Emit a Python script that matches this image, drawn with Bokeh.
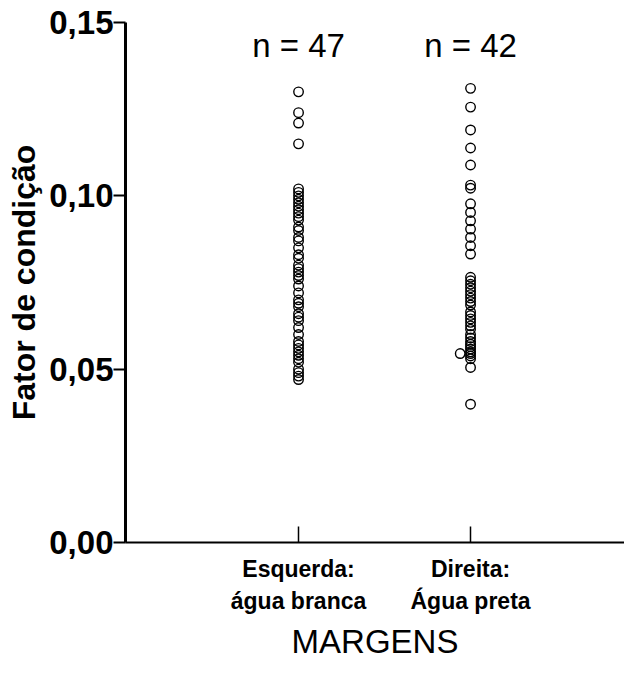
from bokeh.plotting import figure
from bokeh.models import FixedTicker, CustomJSTickFormatter, Range1d, ColumnDataSource
from bokeh.core.properties import value
from bokeh.embed import file_html
from bokeh.resources import INLINE

FONT = "Liberation Sans"

# Categories (x tick labels)
categories = ["Esquerda:\nágua branca", "Direita:\nÁgua preta"]
y_ticks = [0.0, 0.05, 0.10, 0.15]

# Fator de condição - margem esquerda (água branca), n = 47
esquerda = [0.130, 0.124, 0.121, 0.115,
            0.102, 0.101, 0.100, 0.099, 0.098, 0.097, 0.096, 0.095, 0.094, 0.093,
            0.091, 0.090, 0.088, 0.087, 0.085, 0.083, 0.082, 0.080, 0.079, 0.078,
            0.077, 0.076, 0.074, 0.072, 0.070, 0.069, 0.068, 0.066, 0.065, 0.064,
            0.062, 0.060, 0.058, 0.057, 0.056, 0.055, 0.054, 0.053, 0.052, 0.050,
            0.049, 0.048, 0.047]

# Fator de condição - margem direita (água preta), n = 42
direita = [0.131, 0.1256, 0.119, 0.1138, 0.1089, 0.1031, 0.1022,
           0.0977, 0.0952, 0.0928, 0.0904, 0.0880, 0.0856, 0.0832,
           0.0765, 0.0755, 0.0745, 0.0735, 0.0725, 0.0715, 0.0705, 0.0695, 0.0685,
           0.0665, 0.0655, 0.0645, 0.0635, 0.0625, 0.0615, 0.0600, 0.0590, 0.0580,
           0.0572, 0.0565, 0.0558, 0.0550, 0.0545, 0.0538, 0.0530,
           0.0545, 0.0505, 0.0399]
# horizontal displacement of overlapping cases (in category units)
direita_offset = [0.0] * 39 + [-0.06, 0.0, 0.0]

p = figure(width=624, height=664, output_backend="svg", toolbar_location=None,
           x_range=Range1d(-0.006, 2.895), y_range=Range1d(0, 0.15),
           min_border_left=125, min_border_right=0, min_border_top=22,
           min_border_bottom=122)
p.outline_line_color = None
p.xgrid.visible = False
p.ygrid.visible = False
p.background_fill_color = "white"
p.border_fill_color = "white"

src1 = ColumnDataSource(dict(x=[1.0] * len(esquerda), y=esquerda))
src2 = ColumnDataSource(dict(x=[2.0 + o for o in direita_offset], y=direita))
for s in (src1, src2):
    p.scatter("x", "y", source=s, marker="circle", size=9.5, fill_color=None,
              line_color="black", line_width=1.4)

p.text(x=[1, 2], y=[0.1434, 0.1434],
       text=[f"n = {len(esquerda)}", f"n = {len(direita)}"],
       text_align="center", text_baseline="alphabetic",
       text_font=value(FONT), text_font_size="33px", text_color="black")

# Y axis
ya = p.yaxis[0]
ya.ticker = FixedTicker(ticks=y_ticks)
ya.formatter = CustomJSTickFormatter(code="return tick.toFixed(2).replace('.', ',');")
ya.minor_tick_line_color = None
ya.major_tick_out = 12
ya.major_tick_in = 0
ya.major_tick_line_width = 2
ya.major_label_standoff = 0
ya.major_label_text_font = FONT
ya.major_label_text_font_size = "33px"
ya.major_label_text_font_style = "bold"
ya.major_label_text_color = "black"
ya.axis_line_width = 3
ya.axis_line_color = "black"
ya.axis_label = "Fator de condição"
ya.axis_label_text_font = FONT
ya.axis_label_text_font_size = "32px"
ya.axis_label_text_font_style = "bold"
ya.axis_label_text_color = "black"
ya.axis_label_standoff = 4

# X axis
xa = p.xaxis[0]
xa.ticker = FixedTicker(ticks=[1, 2])
xa.major_label_overrides = {1: categories[0], 2: categories[1]}
xa.minor_tick_line_color = None
xa.major_tick_in = 16
xa.major_tick_out = 0
xa.major_tick_line_width = 1.5
xa.major_label_standoff = 13
xa.major_label_text_font = FONT
xa.major_label_text_font_size = "23px"
xa.major_label_text_font_style = "bold"
xa.major_label_text_line_height = 1.25
xa.major_label_text_color = "black"
xa.axis_line_width = 2
xa.axis_line_color = "black"
xa.axis_label = "MARGENS"
xa.axis_label_text_font = FONT
xa.axis_label_text_font_size = "33px"
xa.axis_label_text_font_style = "normal"
xa.axis_label_text_line_height = 1.0
xa.axis_label_text_color = "black"
xa.axis_label_standoff = 6

open("out.html", "w").write(file_html(p, INLINE))
